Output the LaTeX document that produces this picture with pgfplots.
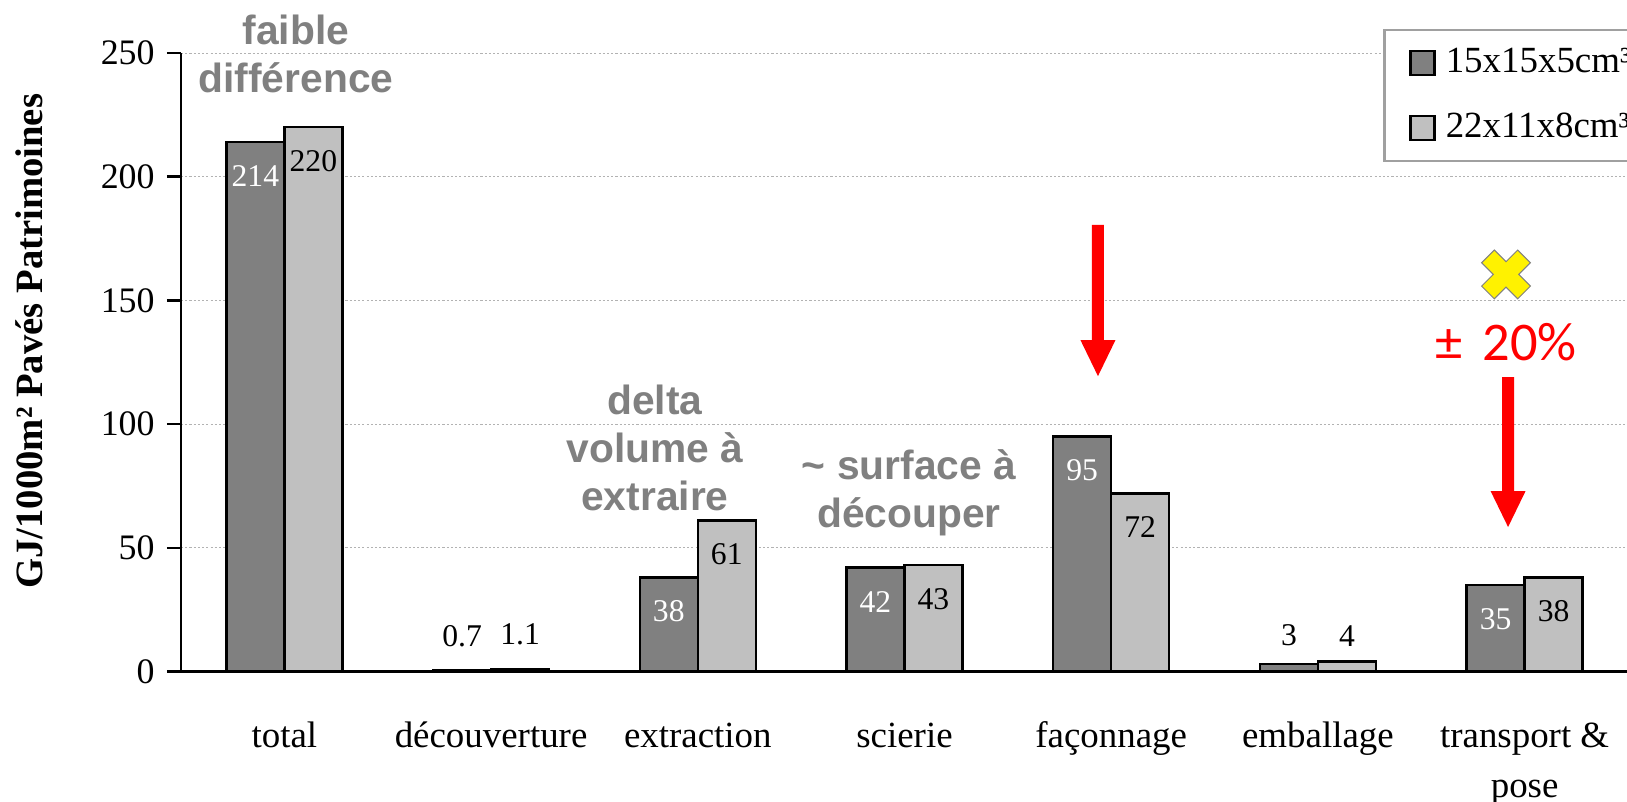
\documentclass[border=0pt]{standalone}
\usepackage{pgfplots}
\pgfplotsset{compat=1.18}
\usepackage{fontspec}
\setmainfont{Liberation Serif}
\newfontfamily\arialf{Liberation Sans}
\newfontfamily\calibf{Carlito}
\definecolor{darkbar}{HTML}{808080}
\definecolor{lightbar}{HTML}{C0C0C0}
\definecolor{annot}{HTML}{808080}
\definecolor{legframe}{HTML}{A0A0A0}

\begin{document}
\begin{tikzpicture}
\useasboundingbox (0,0) rectangle (162.7mm,80.2mm);
\begin{axis}[
  at={(18.1mm,13.05mm)}, anchor=south west,
  scale only axis, width=144.7mm, height=61.85mm,
  xmin=-0.5, xmax=6.5, ymin=0, ymax=250,
  axis x line*=bottom, axis y line*=left,
  axis line style={line width=0.25mm, -},
  xtick={0,...,6},
  xticklabels={\strut total, \strut découverture, \strut extraction, \strut scierie, \strut façonnage, \strut emballage, {\strut transport \&\\pose}},
  x tick label style={font=\fontsize{10.5}{14.2}\selectfont, align=center, anchor=north, yshift=-1.45mm},
  xtick style={draw=none},
  ytick={0,50,...,250},
  y tick label style={font=\fontsize{10.2}{12}\selectfont},
  ytick style={line width=0.25mm, black},
  tick align=outside, major tick length=1.4mm,
  ymajorgrids, major grid style={gray!60, dash pattern=on 0.6pt off 0.6pt, line width=0.08mm},
  /pgf/number format/assume math mode=true,
  ylabel={\bfseries GJ/1000m² Pavés Patrimoines},
  ylabel style={font=\fontsize{11}{13}\selectfont, at={(axis description cs:-0.105,0.534)}, anchor=center},
  ybar, bar width=5.8mm,
  clip=false,
  legend style={at={(axis description cs:0.8307,1.0388)}, anchor=north west,
    draw=legframe, line width=0.25mm, font=\fontsize{10.5}{12}\selectfont,
    inner xsep=2.5mm, inner ysep=1.1mm, row sep=2.1mm, legend cell align=left,
    /tikz/every odd column/.append style={column sep=0.3mm}},
]
\addplot[fill=darkbar, draw=black, line width=0.25mm, bar shift=-2.9mm,
  legend image code/.code={\draw[fill=darkbar, draw=black, line width=0.25mm] (0mm,-1.2mm) rectangle (2.4mm,1.2mm);},
  nodes near coords, every node near coord/.append style={anchor=center, yshift=-3.4mm, text=white, font=\fontsize{9}{11}\selectfont}]
  coordinates {(0,214) (2,38) (3,42) (4,95) (6,35)};
\addplot[fill=darkbar, draw=black, line width=0.25mm, bar shift=-2.9mm, forget plot,
  nodes near coords, every node near coord/.append style={anchor=center, yshift=3.4mm, text=black, font=\fontsize{9}{11}\selectfont}]
  coordinates {(1,0.7)};
\addplot[fill=darkbar, draw=black, line width=0.25mm, bar shift=-2.9mm, forget plot,
  nodes near coords, every node near coord/.append style={anchor=center, yshift=2.85mm, text=black, font=\fontsize{9}{11}\selectfont}]
  coordinates {(5,3)};
\addplot[fill=lightbar, draw=black, line width=0.25mm, bar shift=2.9mm,
  legend image code/.code={\draw[fill=lightbar, draw=black, line width=0.25mm] (0mm,-1.2mm) rectangle (2.4mm,1.2mm);},
  nodes near coords, every node near coord/.append style={anchor=center, yshift=-3.4mm, text=black, font=\fontsize{9}{11}\selectfont}]
  coordinates {(0,220) (2,61) (3,43) (4,72) (6,38)};
\addplot[fill=lightbar, draw=black, line width=0.25mm, bar shift=2.9mm, forget plot,
  nodes near coords, every node near coord/.append style={anchor=center, yshift=3.4mm, text=black, font=\fontsize{9}{11}\selectfont}]
  coordinates {(1,1.1)};
\addplot[fill=lightbar, draw=black, line width=0.25mm, bar shift=2.9mm, forget plot,
  nodes near coords, every node near coord/.append style={anchor=center, yshift=2.6mm, text=black, font=\fontsize{9}{11}\selectfont}]
  coordinates {(5,4)};
\legend{15x15x5cm³, 22x11x8cm³}

% annotations
\node[font=\arialf\bfseries\fontsize{11.6}{13.7}\selectfont, text=annot, align=center] at (axis cs:0.056,249.6) {faible\\différence};
\node[font=\arialf\bfseries\fontsize{11.6}{13.7}\selectfont, text=annot, align=center] at (axis cs:1.793,90.3) {delta\\volume à\\extraire};
\node[font=\arialf\bfseries\fontsize{11.6}{13.7}\selectfont, text=annot, align=center] at (axis cs:3.022,72.2) {\textasciitilde{} surface à\\découper};
\node[font=\calibf\fontsize{15.5}{18}\selectfont, text=red] at (axis cs:5.91,133.2) {±\hspace{0.15em} 20\%};

% arrows
\fill[red] ([xshift=-0.6mm]axis cs:3.936,180.5) -- ([xshift=0.6mm]axis cs:3.936,180.5)
  -- ([xshift=0.6mm,yshift=3.6mm]axis cs:3.936,119.4) -- ([xshift=1.75mm,yshift=3.6mm]axis cs:3.936,119.4)
  -- (axis cs:3.936,119.4) -- ([xshift=-1.75mm,yshift=3.6mm]axis cs:3.936,119.4)
  -- ([xshift=-0.6mm,yshift=3.6mm]axis cs:3.936,119.4) -- cycle;
\fill[red] ([xshift=-0.6mm]axis cs:5.92,119.0) -- ([xshift=0.6mm]axis cs:5.92,119.0)
  -- ([xshift=0.6mm,yshift=3.6mm]axis cs:5.92,58.4) -- ([xshift=1.75mm,yshift=3.6mm]axis cs:5.92,58.4)
  -- (axis cs:5.92,58.4) -- ([xshift=-1.75mm,yshift=3.6mm]axis cs:5.92,58.4)
  -- ([xshift=-0.6mm,yshift=3.6mm]axis cs:5.92,58.4) -- cycle;

% yellow cross
\begin{scope}[shift={(axis cs:5.91,160.5)}, rotate=45]
\filldraw[fill=yellow, draw=gray, line width=0.1mm] (-0.9mm,-2.55mm) -- (0.9mm,-2.55mm) -- (0.9mm,-0.9mm) -- (2.55mm,-0.9mm) -- (2.55mm,0.9mm) -- (0.9mm,0.9mm) -- (0.9mm,2.55mm) -- (-0.9mm,2.55mm) -- (-0.9mm,0.9mm) -- (-2.55mm,0.9mm) -- (-2.55mm,-0.9mm) -- (-0.9mm,-0.9mm) -- cycle;
\end{scope}
\end{axis}
\end{tikzpicture}
\end{document}
